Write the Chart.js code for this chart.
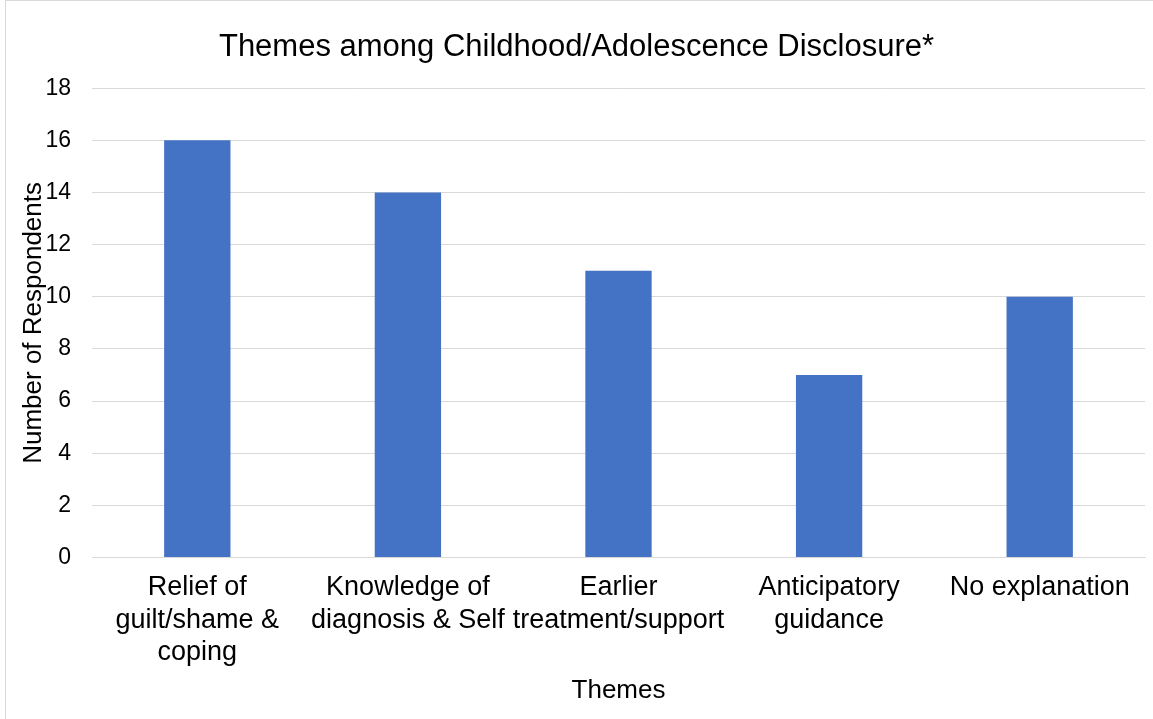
<!DOCTYPE html>
<html>
<head>
<meta charset="utf-8">
<script src="https://cdn.jsdelivr.net/npm/chart.js@4"></script>
<style>
  body { margin: 0; background: #fff; overflow: hidden; }
  #wrap { position: absolute; left: 0; top: 0; width: 1153px; height: 719px; }
  #frame { position: absolute; left: 5px; top: 0; width: 1160px; height: 730px; border-left: 1px solid #d9d9d9; border-top: 1px solid #d9d9d9; pointer-events: none; }
</style>
</head>
<body>
<div id="wrap"><canvas id="chart"></canvas></div>
<div id="frame"></div>
<script>
'use strict';

const categories = [
  ['Relief of', 'guilt/shame &', 'coping'],
  ['Knowledge of', 'diagnosis & Self'],
  ['Earlier', 'treatment/support'],
  ['Anticipatory', 'guidance'],
  ['No explanation']
];
const respondents = [16, 14, 11, 7, 10];
const yTicks = [0, 2, 4, 6, 8, 10, 12, 14, 16, 18];

Chart.defaults.font.family = "'Liberation Sans', Arial, sans-serif";
Chart.defaults.color = '#000';

let ctx = document.getElementById('chart').getContext('2d');

new Chart(ctx, {
  type: 'bar',
  data: {
    labels: categories,
    datasets: [{
      label: 'Number of Respondents',
      data: respondents,
      backgroundColor: '#4472C4',
      categoryPercentage: 1,
      barPercentage: 0.315
    }]
  },
  options: {
    responsive: true,
    maintainAspectRatio: false,
    animation: false,
    layout: { padding: { left: 8, right: 8, top: 0, bottom: 13 } },
    plugins: {
      legend: { display: false },
      tooltip: { enabled: false },
      title: {
        display: true,
        text: 'Themes among Childhood/Adolescence Disclosure*',
        font: { size: 31, weight: 'normal' },
        color: '#000',
        padding: { top: 29, bottom: 22 }
      }
    },
    scales: {
      x: {
        grid: { display: false },
        border: { color: '#d9d9d9' },
        ticks: { font: { size: 27, lineHeight: 1.2 }, color: '#000', maxRotation: 0, autoSkip: false, padding: 6 },
        title: { display: true, text: 'Themes', font: { size: 26 }, color: '#000', padding: { top: 0, bottom: 0 } }
      },
      y: {
        min: 0,
        max: 18,
        afterBuildTicks: axis => { axis.ticks = yTicks.map(v => ({ value: v })); },
        afterFit: axis => { axis.width = 84; },
        grid: { color: '#d9d9d9', drawTicks: false },
        border: { display: false },
        ticks: { font: { size: 23 }, color: '#000', padding: 21 },
        title: { display: true, text: 'Number of Respondents', font: { size: 26 }, color: '#000', padding: { top: 10, bottom: 0 } }
      }
    }
  }
});
</script>
</body>
</html>
